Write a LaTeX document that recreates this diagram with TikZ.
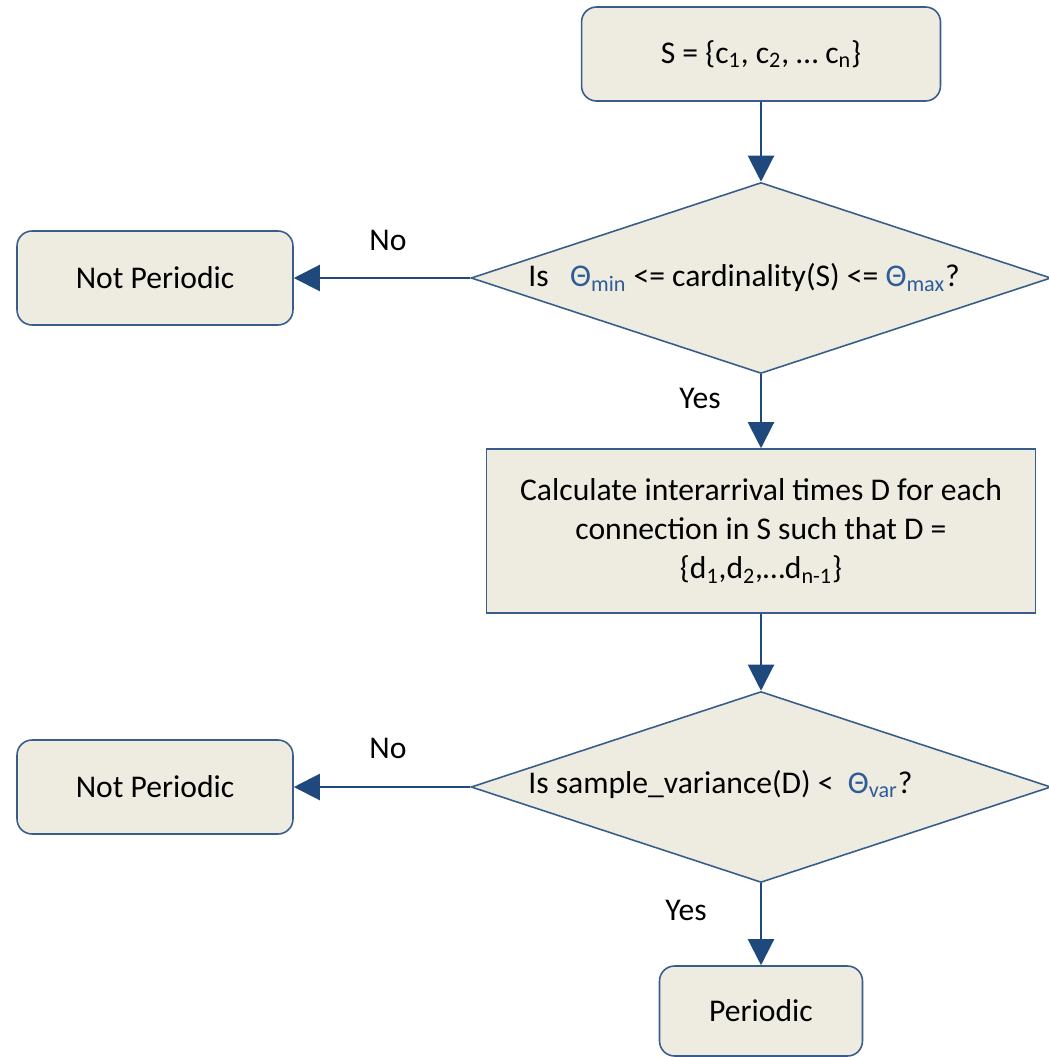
\documentclass[tikz,border=0pt]{standalone}
\usepackage{fontspec}
\setmainfont{Carlito}
\usepackage{xcolor}
\usetikzlibrary{shapes, arrows.meta, positioning}
\definecolor{boxfill}{HTML}{EEECE1}
\definecolor{boxline}{HTML}{385D8A}
\definecolor{arrowblue}{HTML}{1F497D}
\definecolor{thetablue}{HTML}{2E5C98}

\begin{document}
\begin{tikzpicture}[x=0.02cm, y=-0.02cm,
    >={Triangle[length=0.52cm, width=0.52cm]},
    every node/.style={font=\fontsize{18}{22.2}\selectfont},
    roundbox/.style={draw=boxline, fill=boxfill, line width=0.9pt, rounded corners=0.3cm, minimum height=1.88cm},
    plainbox/.style={draw=boxline, fill=boxfill, line width=0.9pt, align=center},
    decision/.style={diamond, draw=boxline, fill=boxfill, line width=0.9pt, minimum width=11.6cm, minimum height=3.82cm, inner sep=0pt},
    flow/.style={->, draw=arrowblue, fill=arrowblue, line width=1.2pt}]
      \useasboundingbox (0,0) rectangle (1048,1057);

      \node[roundbox, minimum width=7.18cm] (start) at (761,54) {S = \{c\textsubscript{1}, c\textsubscript{2}, … c\textsubscript{n}\}};
      \node[decision] (card) at (761,278) {};
      \node[anchor=base west, inner sep=0pt] (cardtxt) at (528,287) {Is\ \ \ \textcolor{thetablue}{Θ\textsubscript{min}} <= cardinality(S) <= \textcolor{thetablue}{Θ\textsubscript{max}}?};
      \node[roundbox, minimum width=5.52cm] (np1) at (155,278) {Not Periodic};
      \node[plainbox, minimum width=10.98cm, minimum height=3.28cm] (calc) at (761,531) {Calculate interarrival times D for each\\ connection in S such that D =\\ \{d\textsubscript{1},d\textsubscript{2},…d\textsubscript{n-1}\}};
      \node[decision] (var) at (761,787) {};
      \node[anchor=base west, inner sep=0pt] (vartxt) at (528,793) {Is sample\_variance(D) <\ \ \textcolor{thetablue}{Θ\textsubscript{var}}?};
      \node[roundbox, minimum width=5.52cm] (np2) at (155,787) {Not Periodic};
      \node[roundbox, minimum width=4.06cm, minimum height=1.8cm] (per) at (761,1011) {Periodic};

      \node (no1) at (388,240) {No};
      \node (yes1) at (700,398) {Yes};
      \node (no2) at (388,748) {No};
      \node (yes2) at (686,910) {Yes};

      \draw [flow] (start) -- (card);
      \draw [flow] (card) -- (np1);
      \draw [flow] (card) -- (calc);
      \draw [flow] (calc) -- (var);
      \draw [flow] (var) -- (np2);
      \draw [flow] (var) -- (per);
    \end{tikzpicture}
\end{document}
